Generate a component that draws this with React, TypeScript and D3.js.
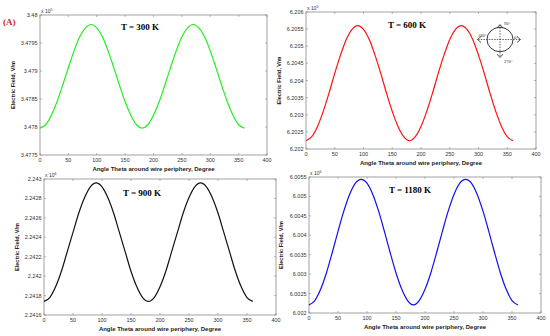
import React from 'react';
import * as d3 from 'd3';

// angle around wire periphery, degrees
const angles = [0, 10, 20, 30, 40, 50, 60, 70, 80, 90, 100, 110, 120, 130, 140, 150, 160, 170, 180,
  190, 200, 210, 220, 230, 240, 250, 260, 270, 280, 290, 300, 310, 320, 330, 340, 350, 360];

const field300 = [3.47798, 3.47804, 3.47821, 3.47845, 3.47875, 3.47906, 3.47936, 3.47961, 3.47977, 3.47983,
  3.47977, 3.47961, 3.47936, 3.47906, 3.47875, 3.47845, 3.47821, 3.47804, 3.47798,
  3.47804, 3.47821, 3.47845, 3.47875, 3.47906, 3.47936, 3.47961, 3.47977, 3.47983,
  3.47977, 3.47961, 3.47936, 3.47906, 3.47875, 3.47845, 3.47821, 3.47804, 3.47798];
const field600 = [6.20224, 6.20236, 6.20266, 6.2031, 6.20363, 6.20421, 6.20474, 6.2052, 6.20549, 6.2056,
  6.20549, 6.2052, 6.20474, 6.20421, 6.20363, 6.2031, 6.20266, 6.20236, 6.20224,
  6.20236, 6.20266, 6.2031, 6.20363, 6.20421, 6.20474, 6.2052, 6.20549, 6.2056,
  6.20549, 6.2052, 6.20474, 6.20421, 6.20363, 6.2031, 6.20266, 6.20236, 6.20224];
const field900 = [2.24174, 2.24178, 2.24189, 2.24205, 2.24225, 2.24245, 2.24265, 2.24281, 2.24292, 2.24296,
  2.24292, 2.24281, 2.24265, 2.24245, 2.24225, 2.24205, 2.24189, 2.24178, 2.24174,
  2.24178, 2.24189, 2.24205, 2.24225, 2.24245, 2.24265, 2.24281, 2.24292, 2.24296,
  2.24292, 2.24281, 2.24265, 2.24245, 2.24225, 2.24205, 2.24189, 2.24178, 2.24174];
const field1180 = [6.00221, 6.00232, 6.00261, 6.00303, 6.00355, 6.0041, 6.00462, 6.00505, 6.00534, 6.00544,
  6.00534, 6.00505, 6.00462, 6.0041, 6.00355, 6.00303, 6.00261, 6.00232, 6.00221,
  6.00232, 6.00261, 6.00303, 6.00355, 6.0041, 6.00462, 6.00505, 6.00534, 6.00544,
  6.00534, 6.00505, 6.00462, 6.0041, 6.00355, 6.00303, 6.00261, 6.00232, 6.00221];

const xTicks = [0, 50, 100, 150, 200, 250, 300, 350, 400];
const yTicks300 = ['3.4775', '3.478', '3.4785', '3.479', '3.4795', '3.48'];
const yTicks600 = ['6.202', '6.2025', '6.203', '6.2035', '6.204', '6.2045', '6.205', '6.2055', '6.206'];
const yTicks900 = ['2.2416', '2.2418', '2.242', '2.2422', '2.2424', '2.2426', '2.2428', '2.243'];
const yTicks1180 = ['6.002', '6.0025', '6.003', '6.0035', '6.004', '6.0045', '6.005', '6.0055'];

const sans = 'Liberation Sans, Arial, sans-serif';
const serif = 'Liberation Serif, Times New Roman, serif';

interface PanelProps {
  box: [number, number, number, number]; // left, top, right, bottom
  values: number[];
  yTicks: string[];
  color: string;
  title: string;
  titleX: number;
  titleY: number;
  exponent: string;
  yLabelX: number;
}

const Panel: React.FC<PanelProps> = ({ box, values, yTicks, color, title, titleX, titleY, exponent, yLabelX }) => {
  const [l, t, r, b] = box;
  const yNums = yTicks.map(Number);
  const x = d3.scaleLinear().domain([0, 400]).range([l, r]);
  const y = d3.scaleLinear().domain([yNums[0], yNums[yNums.length - 1]]).range([b, t]);

  const line = d3.line<number>()
    .x((_, i) => x(angles[i]))
    .y(d => y(d))
    .curve(d3.curveMonotoneX);

  const tk = 2;
  return (
    <g>
      <rect x={l} y={t} width={r - l} height={b - t} fill="none" stroke="#8a8a8a" strokeWidth={0.8} />
      {xTicks.map(v => (
        <g key={'x' + v}>
          <line x1={x(v)} x2={x(v)} y1={b} y2={b - tk} stroke="#8a8a8a" strokeWidth={0.6} />
          <line x1={x(v)} x2={x(v)} y1={t} y2={t + tk} stroke="#8a8a8a" strokeWidth={0.6} />
          <text x={x(v)} y={b + 6.5} fontSize={5.5} fontFamily={sans} fill="#333" textAnchor="middle">{v}</text>
        </g>
      ))}
      {yTicks.map((s, i) => (
        <g key={'y' + s}>
          <line x1={l} x2={l + tk} y1={y(yNums[i])} y2={y(yNums[i])} stroke="#8a8a8a" strokeWidth={0.6} />
          <line x1={r} x2={r - tk} y1={y(yNums[i])} y2={y(yNums[i])} stroke="#8a8a8a" strokeWidth={0.6} />
          <text x={l - 2.5} y={y(yNums[i]) + 2} fontSize={5.5} fontFamily={sans} fill="#333" textAnchor="end">{s}</text>
        </g>
      ))}
      <text x={l + 1} y={t - 2} fontSize={5} fontFamily={sans} fill="#333">
        x 10<tspan dy={-2} fontSize={3.5}>{exponent}</tspan>
      </text>
      <path d={line(values) || ''} fill="none" stroke={color} strokeWidth={1.2} />
      <text x={titleX} y={titleY} fontSize={9} fontWeight="bold" fontFamily={serif} textAnchor="middle">{title}</text>
      <text x={(l + r) / 2} y={b + 15.5} fontSize={6} fontWeight="bold" fontFamily={sans} fill="#222" textAnchor="middle">
        Angle Theta around wire periphery, Degree
      </text>
      <text transform={`translate(${yLabelX},${(t + b) / 2}) rotate(-90)`} fontSize={5.6} fontWeight="bold"
        fontFamily={sans} fill="#222" textAnchor="middle">
        Electric Field, V/m
      </text>
    </g>
  );
};

const Arrow: React.FC<{ d: string }> = ({ d }) => (
  <path d={d} fill="none" stroke="#222" strokeWidth={0.8} />
);

const App: React.FC = () => (
  <svg width={550} height={336} style={{ position: 'absolute', left: 0, top: 0, background: '#fff' }}>
    <Panel box={[40, 15, 267, 155]} values={field300} yTicks={yTicks300} color="#22ee22" title="T = 300 K"
      titleX={140} titleY={30} exponent="5" yLabelX={15} />
    <Panel box={[306, 12, 536, 149]} values={field600} yTicks={yTicks600} color="#ff1010" title="T = 600 K"
      titleX={407} titleY={28} exponent="5" yLabelX={281} />
    <Panel box={[44, 179, 276, 315]} values={field900} yTicks={yTicks900} color="#111" title="T = 900 K"
      titleX={142} titleY={196} exponent="6" yLabelX={19} />
    <Panel box={[309, 177, 541, 313]} values={field1180} yTicks={yTicks1180} color="#1010ee" title="T = 1180 K"
      titleX={410} titleY={193} exponent="6" yLabelX={283} />

    <text x={3} y={25} fontSize={9} fontWeight="bold" fontFamily={serif} fill="#d42020">(A)</text>

    {/* wire cross-section sketch */}
    <g>
      <ellipse cx={500} cy={39.5} rx={13} ry={12.2} fill="none" stroke="#222" strokeWidth={0.9} />
      <line x1={500} x2={500} y1={25} y2={57} stroke="#222" strokeWidth={0.7} strokeDasharray="1.5,1.2" />
      <line x1={478} x2={520} y1={39.5} y2={39.5} stroke="#222" strokeWidth={0.7} strokeDasharray="1.5,1.2" />
      <Arrow d="M497,28 L500,24.5 L503,28" />
      <Arrow d="M497,54 L500,57.5 L503,54" />
      <Arrow d="M481,36.5 L477.5,39.5 L481,42.5" />
      <Arrow d="M517,36.5 L520.5,39.5 L517,42.5" />
      <text x={504} y={25} fontSize={4.5} fontFamily={serif} fill="#333">90°</text>
      <text x={478} y={37} fontSize={4.5} fontFamily={serif} fill="#333">180°</text>
      <text x={514} y={39} fontSize={4.5} fontFamily={serif} fill="#333">0°</text>
      <text x={504} y={63} fontSize={4.5} fontFamily={serif} fill="#333">270°</text>
    </g>
  </svg>
);

export default App;
